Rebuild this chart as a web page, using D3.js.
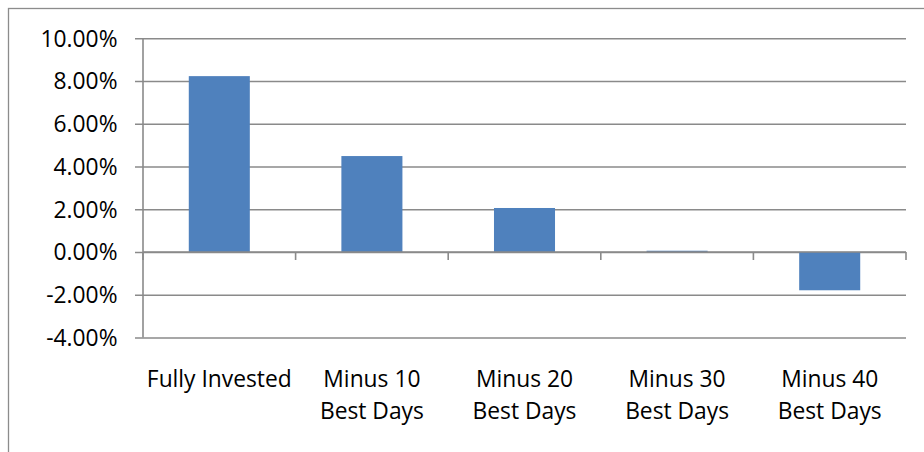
<!DOCTYPE html>
<html>
<head>
<meta charset="utf-8">
<script src="https://cdn.jsdelivr.net/npm/d3@7"></script>
<style>
  html, body { margin: 0; padding: 0; background: #fff; }
  svg { display: block; }
  text { font-family: "Open Sans", Lato, sans-serif; fill: #000; }
</style>
</head>
<body>
<svg id="chart" width="924" height="452"></svg>
<script>
// Annualized return for each scenario
const categories = [
  ["Fully Invested"],
  ["Minus 10", "Best Days"],
  ["Minus 20", "Best Days"],
  ["Minus 30", "Best Days"],
  ["Minus 40", "Best Days"]
];
const returns = [0.0823, 0.0449, 0.0206, 0.0006, -0.0179];
const yTicks = [0.10, 0.08, 0.06, 0.04, 0.02, 0.00, -0.02, -0.04];

const svg = d3.select("#chart");
const W = 924, H = 452;
const margin = { left: 143, right: 18, top: 38.3, bottom: 114.5 };
const innerW = W - margin.left - margin.right;
const innerH = H - margin.top - margin.bottom;

const gridColor = "#8a8a8a";
const barColor = "#4f81bd";
const fontSize = "22.8px";

// Chart frame
svg.append("rect")
  .attr("x", 8.5).attr("y", 8.5)
  .attr("width", W).attr("height", H)
  .attr("fill", "none")
  .attr("stroke", "#8c8c8c")
  .attr("stroke-width", 1.3);

const g = svg.append("g").attr("transform", `translate(${margin.left},${margin.top})`);

const x = d3.scaleBand()
  .domain(d3.range(categories.length))
  .range([0, innerW])
  .paddingInner(0.6)
  .paddingOuter(0.3);

const y = d3.scaleLinear().domain([-0.04, 0.10]).range([innerH, 0]);

// Percent labels with an ASCII hyphen for negatives
const pct = v => d3.format(".2%")(v).replace("\u2212", "-");

// Horizontal gridlines with tick marks on the value axis
const yAxis = d3.axisLeft(y)
  .tickValues(yTicks)
  .tickFormat(pct)
  .tickSize(-innerW)
  .tickPadding(25.5);

const ya = g.append("g").call(yAxis);
ya.select(".domain").remove();
ya.selectAll(".tick line")
  .attr("x1", -8)
  .attr("stroke", gridColor)
  .attr("stroke-width", 1.6);
ya.selectAll(".tick text")
  .style("font-size", fontSize)
  .attr("dy", "0.34em")
  .attr("fill", "#000");

// Value axis line
g.append("line")
  .attr("x1", 0).attr("x2", 0)
  .attr("y1", y(0.10)).attr("y2", y(-0.04))
  .attr("stroke", gridColor).attr("stroke-width", 1.6);

// Bars
g.selectAll("rect.bar")
  .data(returns)
  .join("rect")
  .attr("class", "bar")
  .attr("x", (d, i) => x(i))
  .attr("width", x.bandwidth())
  .attr("y", d => y(Math.max(0, d)))
  .attr("height", d => Math.abs(y(d) - y(0)))
  .attr("fill", barColor);

// Category axis along zero line, ticks at band boundaries
const step = x.step();
const boundaries = d3.range(categories.length + 1).map(i => i * step);
g.append("line")
  .attr("x1", 0).attr("x2", innerW)
  .attr("y1", y(0)).attr("y2", y(0))
  .attr("stroke", gridColor).attr("stroke-width", 1.6);
g.selectAll("line.ctick")
  .data(boundaries)
  .join("line")
  .attr("class", "ctick")
  .attr("x1", d => d).attr("x2", d => d)
  .attr("y1", y(0)).attr("y2", y(0) + 8)
  .attr("stroke", gridColor).attr("stroke-width", 1.6);

// Category labels below the plot
const labels = g.selectAll("text.cat")
  .data(categories)
  .join("text")
  .attr("class", "cat")
  .attr("text-anchor", "middle")
  .attr("transform", (d, i) => `translate(${x(i) + x.bandwidth() / 2},${innerH + 49.5})`)
  .style("font-size", fontSize);
labels.selectAll("tspan")
  .data(d => d)
  .join("tspan")
  .attr("x", 0)
  .attr("dy", (d, i) => i === 0 ? 0 : 31.5)
  .text(d => d);
</script>
</body>
</html>
